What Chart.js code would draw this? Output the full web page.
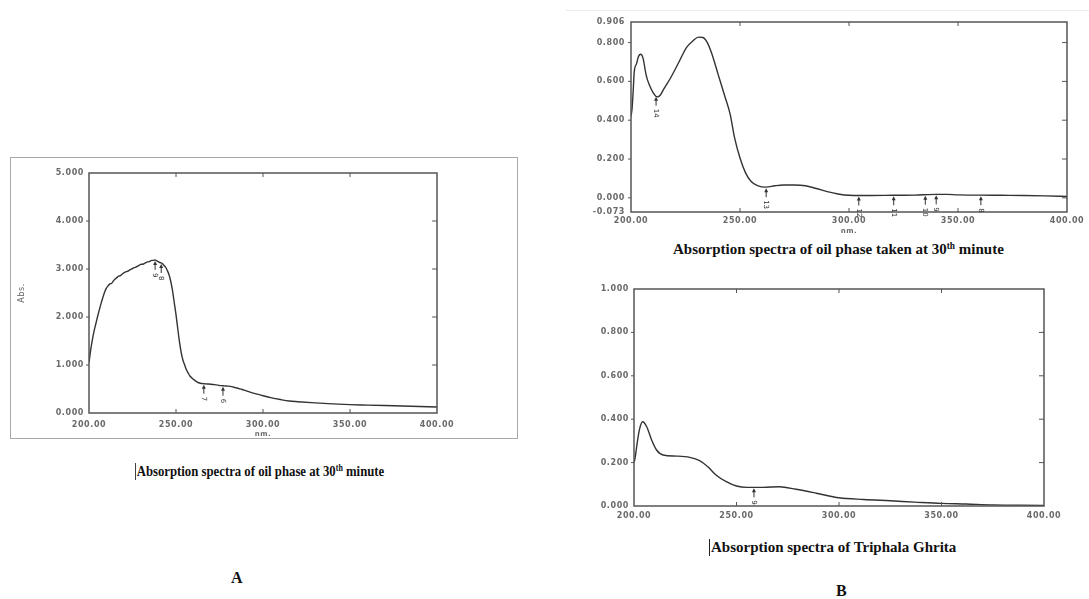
<!DOCTYPE html>
<html>
<head>
<meta charset="utf-8">
<script src="https://cdn.jsdelivr.net/npm/chart.js@4.4.1/dist/chart.umd.min.js"></script>
<style>
  body { margin: 0; width: 1089px; height: 599px; background: #fff; position: relative; overflow: hidden; }
  canvas { position: absolute; }
  .frame { position: absolute; left: 10px; top: 157px; width: 506px; height: 280px; border: 1px solid #a8a8a8; }
  .sep { position: absolute; left: 566px; top: 10px; width: 523px; height: 1px; background: #ececec; }
  .cap { position: absolute; font-family: "Liberation Serif", serif; font-weight: bold; color: #111; white-space: nowrap; }
  .cap sup { font-size: 0.62em; vertical-align: 0.55em; line-height: 0; }
  .bar { border-left: 1px solid #222; padding-left: 1px; }
  .big { font-size: 16px; }
</style>
</head>
<body>
<div class="frame"></div>
<div class="sep"></div>
<canvas id="cA" width="507" height="281" style="left:10px;top:157px"></canvas>
<canvas id="cB1" width="529" height="223" style="left:560px;top:12px"></canvas>
<canvas id="cB2" width="529" height="250" style="left:560px;top:278px"></canvas>

<div class="cap bar" style="left:135px;top:463px;font-size:15px;transform-origin:left center;transform:scaleX(0.85)">Absorption spectra of oil phase at 30<sup>th</sup> minute</div>
<div class="cap" style="left:673px;top:241px;font-size:15px">Absorption spectra of oil phase taken at 30<sup>th</sup> minute</div>
<div class="cap bar" style="left:709px;top:539px;font-size:15px">Absorption spectra of Triphala Ghrita</div>
<div class="cap big" style="left:231px;top:569px">A</div>
<div class="cap big" style="left:836px;top:582px">B</div>

<script>
// wavelength grid shared by the axis labels
const xTicks = [200, 250, 300, 350, 400];

// A: oil phase at 30th minute
const nmA = [200, 201, 202, 203, 204, 205, 206, 207, 208, 209, 210, 211, 212, 213, 214, 215, 216, 217, 218, 219,
  220, 221, 222, 223, 224, 225, 226, 227, 228, 229, 230, 231, 232, 233, 234, 235, 236, 237, 238, 239,
  240, 241, 242, 243, 244, 245, 246, 247, 248, 249, 250, 251, 252, 253, 254, 255, 256, 257, 258, 260,
  262, 264, 266, 268, 270, 272, 274, 276, 278, 280, 282, 284, 286, 288, 290, 293, 296, 300, 305, 310,
  315, 320, 330, 340, 350, 360, 370, 380, 390, 400];
const absA = [1.05, 1.32, 1.54, 1.72, 1.87, 2.02, 2.16, 2.29, 2.41, 2.52, 2.6, 2.65, 2.69, 2.7, 2.75, 2.79, 2.82, 2.85, 2.86, 2.89,
  2.92, 2.94, 2.95, 2.97, 2.99, 3.01, 3.03, 3.04, 3.06, 3.08, 3.1, 3.1, 3.12, 3.14, 3.15, 3.16, 3.18, 3.18, 3.19, 3.17,
  3.15, 3.13, 3.12, 3.08, 3.04, 2.97, 2.88, 2.74, 2.55, 2.3, 2.05, 1.76, 1.48, 1.26, 1.1, 1.0, 0.9, 0.83, 0.77, 0.7,
  0.65, 0.62, 0.61, 0.605, 0.6, 0.59, 0.58, 0.57, 0.565, 0.56, 0.55, 0.53, 0.51, 0.49, 0.465, 0.43, 0.4, 0.36, 0.315, 0.28,
  0.25, 0.235, 0.21, 0.19, 0.175, 0.165, 0.155, 0.145, 0.135, 0.125];
const yTicksA = [0, 1, 2, 3, 4, 5];
const peakNmA = [238, 241.5, 266, 277];
const peakLabA = ["9", "8", "7", "6"];

// B (top): oil phase taken at 30th minute
const nmB1 = [200, 200.5, 201, 201.5, 202.5, 203.5, 204.5, 205.5, 207, 208.5, 210, 212, 213.5, 215, 218, 222, 225.5, 228.5, 231, 233,
  235, 237, 240, 243, 245.5, 247.5, 250, 252.5, 255, 258, 262, 266, 270, 275, 280, 285, 290, 295, 300, 305,
  310, 320, 330, 340, 345, 350, 360, 370, 380, 390, 400];
const absB1 = [0.42, 0.46, 0.55, 0.65, 0.69, 0.73, 0.74, 0.72, 0.63, 0.58, 0.545, 0.52, 0.53, 0.56, 0.615, 0.7, 0.775, 0.81, 0.828, 0.826,
  0.8, 0.745, 0.635, 0.525, 0.43, 0.31, 0.205, 0.13, 0.085, 0.063, 0.055, 0.062, 0.066, 0.066, 0.062, 0.048, 0.032, 0.02, 0.013, 0.012,
  0.012, 0.013, 0.014, 0.018, 0.018, 0.015, 0.014, 0.013, 0.012, 0.01, 0.007];
const yTicksB1 = [-0.073, 0, 0.2, 0.4, 0.6, 0.8, 0.906];
const peakNmB1 = [211.5, 262, 304.5, 320.5, 335, 340, 360.5];
const peakLabB1 = ["14", "13", "12", "11", "10", "9", "8"];

// B (bottom): Triphala Ghrita
const nmB2 = [200, 200.5, 201.3, 202.6, 204.2, 206.2, 208.6, 211, 214.2, 220.7, 227.2, 232, 236, 240, 245, 250, 255, 263, 271, 279,
  289, 300, 312, 325, 337, 350, 362, 375, 388, 400];
const absB2 = [0.2, 0.22, 0.273, 0.35, 0.388, 0.365, 0.304, 0.258, 0.235, 0.23, 0.224, 0.209, 0.181, 0.143, 0.112, 0.092, 0.086, 0.086, 0.089, 0.077,
  0.059, 0.038, 0.03, 0.024, 0.018, 0.012, 0.009, 0.005, 0.004, 0.003];
const yTicksB2 = [0, 0.2, 0.4, 0.6, 0.8, 1.0];
const peakNmB2 = [258.5];
const peakLabB2 = ["9"];

const INK = "#333";
const AXIS = "#555";
const TICKTXT = "#6a6a6a";

function interp(xs, ys, x) {
  for (let i = 1; i < xs.length; i++) {
    if (x <= xs[i]) {
      const t = (x - xs[i - 1]) / (xs[i] - xs[i - 1]);
      return ys[i - 1] + t * (ys[i] - ys[i - 1]);
    }
  }
  return ys[ys.length - 1];
}

function makeChart(id, xs, ys, yTicks, peaks, labels, c) {
  const deco = {
    id: "deco",
    beforeDraw(chart) { chart.ctx.letterSpacing = "0.6px"; },
    afterDraw(chart) {
      const { ctx, chartArea: a, scales: { x, y } } = chart;
      ctx.save();
      ctx.letterSpacing = "0px";
      ctx.strokeStyle = AXIS;
      ctx.lineWidth = 1.5;
      ctx.strokeRect(a.left, a.top, a.right - a.left, a.bottom - a.top);
      // small inward ticks, outward on the left
      ctx.lineWidth = 1;
      ctx.beginPath();
      x.ticks.forEach((t) => {
        const px = x.getPixelForValue(t.value);
        if (px <= a.left + 1 || px >= a.right - 1) return;
        ctx.moveTo(px, a.top); ctx.lineTo(px, a.top + 4);
        ctx.moveTo(px, a.bottom); ctx.lineTo(px, a.bottom - 4);
      });
      y.ticks.forEach((t) => {
        const py = y.getPixelForValue(t.value);
        if (py <= a.top + 1 || py >= a.bottom - 1) return;
        ctx.moveTo(a.left - 3, py); ctx.lineTo(a.left, py);
        ctx.moveTo(a.right, py); ctx.lineTo(a.right - 5, py);
      });
      ctx.stroke();
      // peak pick arrows
      ctx.fillStyle = INK;
      ctx.strokeStyle = INK;
      ctx.font = "7px 'DejaVu Sans'";
      peaks.forEach((p, i) => {
        const px = x.getPixelForValue(p);
        const py = y.getPixelForValue(interp(xs, ys, p)) + 1;
        ctx.beginPath();
        ctx.moveTo(px, py + 2); ctx.lineTo(px, py + 9);
        ctx.stroke();
        ctx.beginPath();
        ctx.moveTo(px, py); ctx.lineTo(px - 2, py + 4); ctx.lineTo(px + 2, py + 4);
        ctx.closePath(); ctx.fill();
        ctx.save();
        ctx.translate(px, py + 12);
        ctx.rotate(Math.PI / 2);
        ctx.textAlign = "left";
        ctx.textBaseline = "middle";
        ctx.fillText(labels[i], 0, 0);
        ctx.restore();
      });
      ctx.restore();
    },
  };

  return new Chart(document.getElementById(id), {
    type: "line",
    data: {
      datasets: [{
        data: xs.map((v, i) => ({ x: v, y: ys[i] })),
        borderColor: INK,
        borderWidth: 1.4,
        pointRadius: 0,
        cubicInterpolationMode: "monotone",
      }],
    },
    plugins: [deco],
    options: {
      responsive: false,
      animation: false,
      events: [],
      layout: { padding: c.pad },
      plugins: { legend: { display: false }, tooltip: { enabled: false } },
      scales: {
        x: {
          type: "linear",
          min: 200,
          max: 400,
          afterBuildTicks: (s) => { s.ticks = xTicks.map((v) => ({ value: v })); },
          afterFit: (s) => { s.height = c.xh; s.paddingLeft = 0; s.paddingRight = 0; },
          grid: { display: false, drawTicks: false },
          border: { display: false },
          ticks: {
            autoSkip: false, maxRotation: 0, padding: c.xpad, color: TICKTXT,
            font: { family: "DejaVu Sans", size: 8, weight: "bold" },
            callback: (v) => v.toFixed(2),
          },
          title: {
            display: c.xTitle, text: "nm.", color: TICKTXT, padding: { top: 0, bottom: c.titlePad },
            font: { family: "DejaVu Sans", size: 7, weight: "bold" },
          },
        },
        y: {
          type: "linear",
          min: yTicks[0],
          max: yTicks[yTicks.length - 1],
          afterBuildTicks: (s) => { s.ticks = yTicks.map((v) => ({ value: v })); },
          afterFit: (s) => { s.width = c.yw; s.paddingTop = 0; s.paddingBottom = 0; },
          grid: { display: false, drawTicks: false },
          border: { display: false },
          ticks: {
            autoSkip: false, padding: c.ypad, color: TICKTXT,
            font: { family: "DejaVu Sans", size: 8, weight: "bold" },
            callback: (v) => v.toFixed(3),
          },
          title: {
            display: !!c.yTitle, text: c.yTitle || "", color: "#666", padding: { top: 7, bottom: 0 },
            font: { family: "DejaVu Sans", size: 8 },
          },
        },
      },
    },
  });
}

makeChart("cA", nmA, absA, yTicksA, peakNmA, peakLabA,
  { pad: { left: 0, top: 16, right: 80, bottom: 0 }, yw: 79, xh: 25, xpad: 7, ypad: 5, xTitle: true, titlePad: 0, yTitle: "Abs." });
makeChart("cB1", nmB1, absB1, yTicksB1, peakNmB1, peakLabB1,
  { pad: { left: 0, top: 10, right: 22, bottom: 0 }, yw: 71, xh: 23, xpad: 4, ypad: 6, xTitle: true, titlePad: 0 });
makeChart("cB2", nmB2, absB2, yTicksB2, peakNmB2, peakLabB2,
  { pad: { left: 0, top: 11, right: 45, bottom: 0 }, yw: 74, xh: 22, xpad: 5, ypad: 5, xTitle: false, titlePad: 0 });
</script>
</body>
</html>
